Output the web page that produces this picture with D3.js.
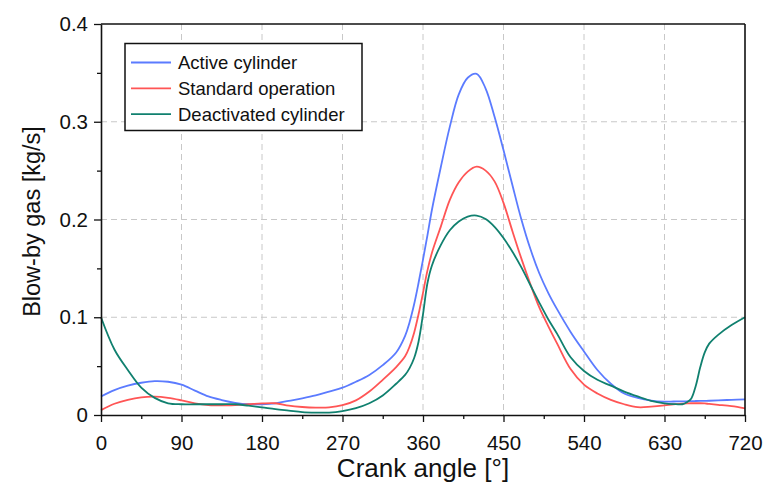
<!DOCTYPE html>
<html><head><meta charset="utf-8">
<script src="https://cdn.jsdelivr.net/npm/d3@7"></script>
<style>body{margin:0;background:#fff}svg{display:block}text{font-family:"Liberation Sans",Arial,sans-serif;fill:#111}</style>
</head><body><svg id="c" width="763" height="483"></svg>
<script>
const angles = [0,15,30,45,60,75,90,105,120,135,150,165,180,195,210,225,240,255,270,285,300,315,330,340,345,350,355,360,365,370,380,390,400,410,420,430,440,450,460,470,480,490,500,510,525,540,555,570,585,600,615,630,640,650,655,660,665,670,675,680,690,705,720];
const activeCyl = [0.019,0.0255,0.030,0.033,0.0347,0.034,0.031,0.025,0.019,0.0153,0.0125,0.011,0.011,0.012,0.0145,0.017,0.020,0.024,0.028,0.034,0.041,0.051,0.064,0.081,0.095,0.113,0.135,0.159,0.184,0.210,0.254,0.295,0.328,0.345,0.349,0.334,0.305,0.271,0.235,0.200,0.170,0.145,0.125,0.108,0.085,0.065,0.046,0.032,0.022,0.0175,0.0148,0.0137,0.0138,0.014,0.014,0.0142,0.0143,0.0144,0.0145,0.0146,0.015,0.0155,0.016];
const standardOp = [0.005,0.0115,0.0155,0.018,0.0187,0.0175,0.015,0.012,0.0102,0.0098,0.0102,0.011,0.0118,0.012,0.0095,0.0082,0.0076,0.0078,0.010,0.015,0.024,0.036,0.049,0.060,0.070,0.084,0.103,0.125,0.148,0.166,0.193,0.220,0.238,0.249,0.254,0.250,0.239,0.217,0.188,0.160,0.134,0.110,0.091,0.073,0.047,0.031,0.022,0.0155,0.011,0.008,0.0085,0.0098,0.011,0.0115,0.0118,0.012,0.012,0.012,0.0118,0.0113,0.0104,0.009,0.0068];
const deactCyl = [0.100,0.067,0.046,0.028,0.0175,0.012,0.011,0.011,0.011,0.011,0.011,0.0095,0.0078,0.006,0.0045,0.003,0.0025,0.0025,0.004,0.007,0.012,0.020,0.032,0.041,0.048,0.058,0.075,0.103,0.135,0.153,0.174,0.189,0.198,0.203,0.204,0.2005,0.1925,0.181,0.167,0.151,0.133,0.115,0.098,0.083,0.059,0.045,0.036,0.030,0.024,0.019,0.0145,0.012,0.0112,0.011,0.013,0.017,0.030,0.049,0.064,0.073,0.082,0.092,0.100];
const seriesNames = ["Active cylinder","Standard operation","Deactivated cylinder"];
const seriesColors = ["#5b7bff","#ff5555","#10806f"];
const xTicks = [0,90,180,270,360,450,540,630,720];
const yTicks = [0,0.1,0.2,0.3,0.4];

const svg = d3.select("#c");
const m = {l:101, r:745, t:24, b:415};
const x = d3.scaleLinear().domain([0,720]).range([m.l,m.r]);
const y = d3.scaleLinear().domain([0,0.4]).range([m.b,m.t]);

// grid
const g = svg.append("g");
g.selectAll(".gx").data(xTicks.slice(1,-1)).join("line")
  .attr("x1",d=>x(d)).attr("x2",d=>x(d)).attr("y1",m.t).attr("y2",m.b)
  .attr("stroke","#c8c8c8").attr("stroke-dasharray","6,4").attr("stroke-width",1);
g.selectAll(".gy").data(yTicks.slice(1,-1)).join("line")
  .attr("y1",d=>y(d)).attr("y2",d=>y(d)).attr("x1",m.l).attr("x2",m.r)
  .attr("stroke","#c8c8c8").attr("stroke-dasharray","6,4").attr("stroke-width",1);

// lines
const data = [activeCyl, standardOp, deactCyl];
const line = d3.line().x((d,i)=>x(angles[i])).y(d=>y(d)).curve(d3.curveCatmullRom.alpha(0.5));
data.forEach((s,k)=>{
  svg.append("path").attr("d",line(s)).attr("fill","none")
    .attr("stroke",seriesColors[k]).attr("stroke-width",1.8);
});

// axes
const xAxis = d3.axisBottom(x).tickValues(d3.range(0,721,45)).tickSizeOuter(0)
  .tickFormat(d=>xTicks.includes(d)?d:"");
const ax = svg.append("g").attr("transform",`translate(0,${m.b})`).call(xAxis);
ax.selectAll(".tick line").attr("y2",d=>xTicks.includes(d)?7:4).attr("stroke","#111").attr("stroke-width",1.3);
ax.selectAll(".tick text").attr("y",20).attr("font-size",20.5).attr("font-family","Liberation Sans, Arial, sans-serif").attr("fill","#111");
ax.select(".domain").attr("stroke","#111").attr("stroke-width",1.6);

const yAxis = d3.axisLeft(y).tickValues(d3.range(0,0.41,0.05).map(v=>+v.toFixed(2))).tickSizeOuter(0)
  .tickFormat(d=>yTicks.some(t=>Math.abs(t-d)<1e-9)?(d===0?"0":d3.format(".1f")(d)):"");
const ay = svg.append("g").attr("transform",`translate(${m.l},0)`).call(yAxis);
ay.selectAll(".tick line").attr("x2",d=>yTicks.some(t=>Math.abs(t-d)<1e-9)?-7:-4).attr("stroke","#111").attr("stroke-width",1.3);
ay.selectAll(".tick text").attr("x",-13).attr("font-size",20.5).attr("font-family","Liberation Sans, Arial, sans-serif").attr("fill","#111");
ay.select(".domain").attr("stroke","#111").attr("stroke-width",1.6);

// frame top/right
svg.append("line").attr("x1",m.l).attr("x2",m.r).attr("y1",m.t).attr("y2",m.t).attr("stroke","#111").attr("stroke-width",1.6);
svg.append("line").attr("x1",m.r).attr("x2",m.r).attr("y1",m.t).attr("y2",m.b).attr("stroke","#111").attr("stroke-width",1.6);

// titles
svg.append("text").attr("x",(m.l+m.r)/2).attr("y",477).attr("text-anchor","middle").attr("font-size",26).text("Crank angle [°]");
svg.append("text").attr("transform",`translate(40,${(m.t+m.b)/2+2}) rotate(-90)`).attr("text-anchor","middle").attr("font-size",23.5).text("Blow-by gas [kg/s]");

// legend
const lg = svg.append("g");
lg.append("rect").attr("x",125).attr("y",43.5).attr("width",237).attr("height",87).attr("fill","#fff").attr("stroke","#111").attr("stroke-width",1.5);
seriesNames.forEach((n,k)=>{
  const yy = 62.5 + k*25.8;
  lg.append("line").attr("x1",131).attr("x2",171).attr("y1",yy).attr("y2",yy).attr("stroke",seriesColors[k]).attr("stroke-width",1.8);
  lg.append("text").attr("x",178).attr("y",yy).attr("dy","0.35em").attr("font-size",18.5).text(n);
});
</script></body></html>
